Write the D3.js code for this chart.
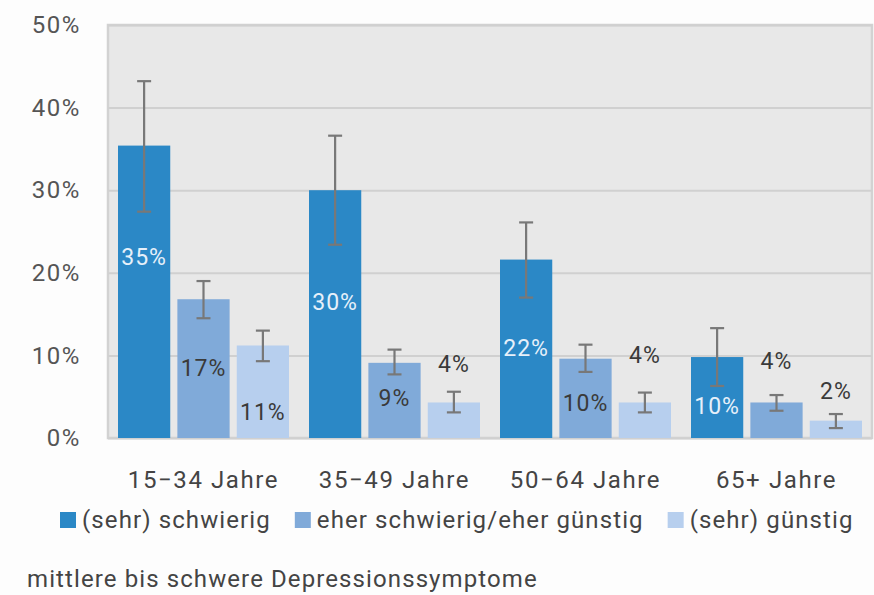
<!DOCTYPE html>
<meta charset="utf-8">
<style>
body { margin: 0; background: #fdfdfd; }
svg { font-family: Roboto, "Liberation Sans", sans-serif; }
.tick text { fill: #555; font-size: 24px; letter-spacing: 1.6px; }
.cat { fill: #444; font-size: 24px; letter-spacing: 1.6px; }
.legend text { fill: #444; font-size: 24px; letter-spacing: 1.1px; }
.note { fill: #444; font-size: 24px; letter-spacing: 1.1px; }
.val { letter-spacing: 1px; }
</style>
<svg width="874" height="595"></svg>
<script src="https://d3js.org/d3.v7.min.js"></script>
<script>

// age groups and series
var groups = ["15\u221234 Jahre", "35\u221249 Jahre", "50\u221264 Jahre", "65+ Jahre"];
var series = ["(sehr) schwierig", "eher schwierig/eher günstig", "(sehr) günstig"];
var colors = ["#2b88c6", "#80aad9", "#b7cfee"];

// percentages (bar height)
var schwierig = [35.4, 30.0, 21.6, 9.8];
var eher      = [16.8,  9.1,  9.6, 4.3];
var guenstig  = [11.2,  4.3,  4.3, 2.1];

// confidence intervals
var schwierigLo = [27.4, 23.4, 17.0, 6.3], schwierigHi = [43.2, 36.6, 26.1, 13.3];
var eherLo      = [14.5,  7.7,  8.0, 3.3], eherHi      = [19.0, 10.7, 11.3, 5.2];
var guenstigLo  = [ 9.3,  3.1,  3.1, 1.2], guenstigHi  = [13.0,  5.6,  5.5, 2.9];

// where the value labels sit (in % units)
var schwierigLabelAt = [21.9, 16.5, 10.9, 3.9];
var eherLabelAt      = [ 8.5,  4.8,  4.2, 9.3];
var guenstigLabelAt  = [ 3.1,  9.0, 10.0, 5.7];

var yTicks = [0, 10, 20, 30, 40, 50];

var svg = d3.select("svg");

var x0 = d3.scaleBand().domain(groups).range([108, 872]);
var x1 = d3.scaleBand().domain(series).range([10, 181]).paddingInner(0.12);
var y = d3.scaleLinear().domain([0, 50]).range([438, 25]);

var rows = [];
groups.forEach(function(g, i) {
  var vals = [schwierig[i], eher[i], guenstig[i]],
      lo = [schwierigLo[i], eherLo[i], guenstigLo[i]],
      hi = [schwierigHi[i], eherHi[i], guenstigHi[i]],
      at = [schwierigLabelAt[i], eherLabelAt[i], guenstigLabelAt[i]];
  series.forEach(function(s, j) {
    rows.push({group: g, series: s, j: j, value: vals[j], lo: lo[j], hi: hi[j], at: at[j]});
  });
});

// plot background
svg.append("rect")
    .attr("x", 108).attr("y", y(50))
    .attr("width", 764).attr("height", y(0) - y(50))
    .attr("fill", "#e8e8e8")
    .attr("stroke", "#d2d2d2")
    .attr("stroke-width", 2.5);

// y axis with grid lines
var yAxis = svg.append("g")
    .attr("transform", "translate(108,0)")
    .call(d3.axisLeft(y).tickValues(yTicks).tickSize(-764).tickPadding(27)
      .tickFormat(function(d) { return d + "%"; }));
yAxis.select(".domain").remove();
yAxis.selectAll(".tick line").attr("stroke", "#d0d0d0").attr("stroke-width", 2);
yAxis.selectAll(".tick text").attr("font-family", "Roboto");

// bars
svg.selectAll(".bar")
  .data(rows)
  .enter().append("rect")
    .attr("class", "bar")
    .attr("x", function(d) { return x0(d.group) + x1(d.series); })
    .attr("y", function(d) { return y(d.value); })
    .attr("width", x1.bandwidth())
    .attr("height", function(d) { return y(0) - y(d.value); })
    .attr("fill", function(d) { return colors[d.j]; });

// error bars
var err = svg.selectAll(".err")
  .data(rows)
  .enter().append("g")
    .attr("class", "err")
    .attr("stroke", "#787878")
    .attr("stroke-width", 2.2)
    .attr("transform", function(d) { return "translate(" + (x0(d.group) + x1(d.series) + x1.bandwidth() / 2) + ",0)"; });
err.append("line")
    .attr("y1", function(d) { return y(d.lo); })
    .attr("y2", function(d) { return y(d.hi); });
err.append("line")
    .attr("x1", -7).attr("x2", 7)
    .attr("y1", function(d) { return y(d.hi); })
    .attr("y2", function(d) { return y(d.hi); });
err.append("line")
    .attr("x1", -7).attr("x2", 7)
    .attr("y1", function(d) { return y(d.lo); })
    .attr("y2", function(d) { return y(d.lo); });

// value labels
svg.selectAll(".val")
  .data(rows)
  .enter().append("text")
    .attr("class", "val")
    .attr("x", function(d) { return x0(d.group) + x1(d.series) + x1.bandwidth() / 2; })
    .attr("y", function(d) { return y(d.at); })
    .attr("dy", "0.35em")
    .attr("text-anchor", "middle")
    .attr("font-size", 23)
    .attr("fill", function(d) { return d.j == 0 ? "#e6f0fa" : "#3a3a3a"; })
    .text(function(d) { return Math.round(d.value) + "%"; });

// category labels
svg.selectAll(".cat")
  .data(groups)
  .enter().append("text")
    .attr("class", "cat")
    .attr("x", function(d) { return x0(d) + x0.bandwidth() / 2; })
    .attr("y", 488)
    .attr("text-anchor", "middle")
    .text(function(d) { return d; });

// legend
var legend = svg.append("g").attr("class", "legend");
var lx = 60;
series.forEach(function(s, j) {
  legend.append("rect")
      .attr("x", lx).attr("y", 512)
      .attr("width", 16).attr("height", 16)
      .attr("fill", colors[j]);
  var t = legend.append("text")
      .attr("x", lx + 22).attr("y", 528)
      .text(s);
  lx += 22 + t.node().getComputedTextLength() + 24;
});

svg.append("text")
    .attr("class", "note")
    .attr("x", 27).attr("y", 587)
    .text("mittlere bis schwere Depressionssymptome");

</script>
